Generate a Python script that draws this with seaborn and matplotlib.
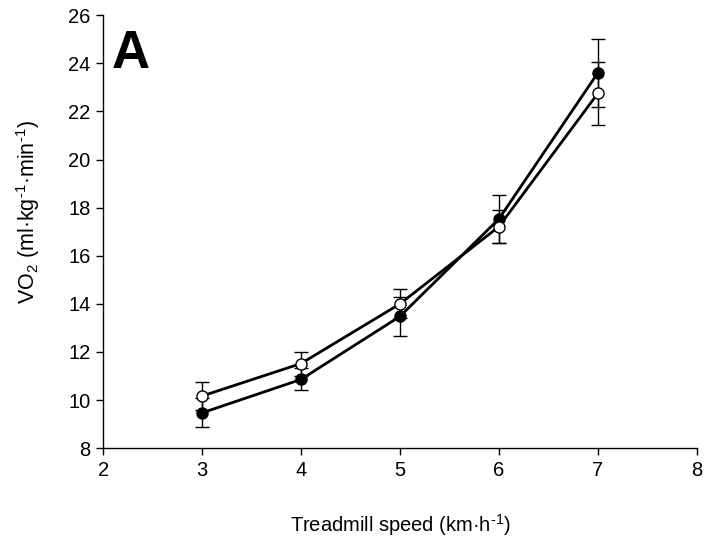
import matplotlib
matplotlib.use("Agg")
import matplotlib.pyplot as plt
import seaborn as sns
import pandas as pd

speed = [3, 4, 5, 6, 7]
vo2_filled = [9.47, 10.86, 13.48, 17.53, 23.60]
se_filled = [0.60, 0.46, 0.80, 1.00, 1.40]
vo2_open = [10.17, 11.52, 14.00, 17.21, 22.75]
se_open = [0.57, 0.50, 0.60, 0.70, 1.30]

sns.set_style("ticks")
plt.rcParams['font.family'] = ['Liberation Sans', 'DejaVu Sans']
plt.rcParams['mathtext.default'] = 'regular'
plt.rcParams['mathtext.fontset'] = 'custom'
plt.rcParams['mathtext.rm'] = 'Liberation Sans'
plt.rcParams['text.color'] = 'black'
plt.rcParams['axes.labelcolor'] = 'black'

df = pd.DataFrame({
    "speed": speed * 2,
    "vo2": vo2_filled + vo2_open,
    "se": se_filled + se_open,
    "group": ["filled"] * 5 + ["open"] * 5,
})

fig = plt.figure(figsize=(7.11, 5.42), dpi=100)
ax = fig.add_axes([0.145, 0.173, 0.835, 0.799])

face = {"filled": "black", "open": "white"}
for g, z in [("filled", 3), ("open", 4)]:
    sub = df[df.group == g]
    ax.errorbar(sub.speed, sub.vo2, yerr=sub.se, fmt="none", ecolor="black",
                elinewidth=1.0, capsize=4.7, capthick=1.0, zorder=z)
    sns.lineplot(data=sub, x="speed", y="vo2", ax=ax, color="black",
                 linewidth=2.0, marker="o", markersize=8,
                 markerfacecolor=face[g], markeredgecolor="black",
                 markeredgewidth=1.0, zorder=z + 0.5, legend=False)

ax.set_xlim(2, 8)
ax.set_ylim(8, 26)
ax.set_xticks(range(2, 9))
ax.set_yticks(range(8, 27, 2))
ax.tick_params(axis="both", direction="out", length=5, width=1, labelsize=14.5,
               color="black", labelcolor="black", pad=4)
for s in ["left", "bottom"]:
    ax.spines[s].set_color("black")
    ax.spines[s].set_linewidth(1.0)
sns.despine(ax=ax)

ax.set_xlabel(r"Treadmill speed (km·h$^{\text{-1}}$)", fontsize=14.5, labelpad=23)
ax.set_ylabel(r"VO$_2$ (ml·kg$^{\text{-1}}$·min$^{\text{-1}}$)", fontsize=15.5)
ax.yaxis.set_label_coords(-0.103, 0.545)

fig.text(0.157, 1 - 68 / 542, "A", fontsize=38, fontweight="bold",
         va="baseline", ha="left", color="black")

fig.savefig("out.png", dpi=100)
